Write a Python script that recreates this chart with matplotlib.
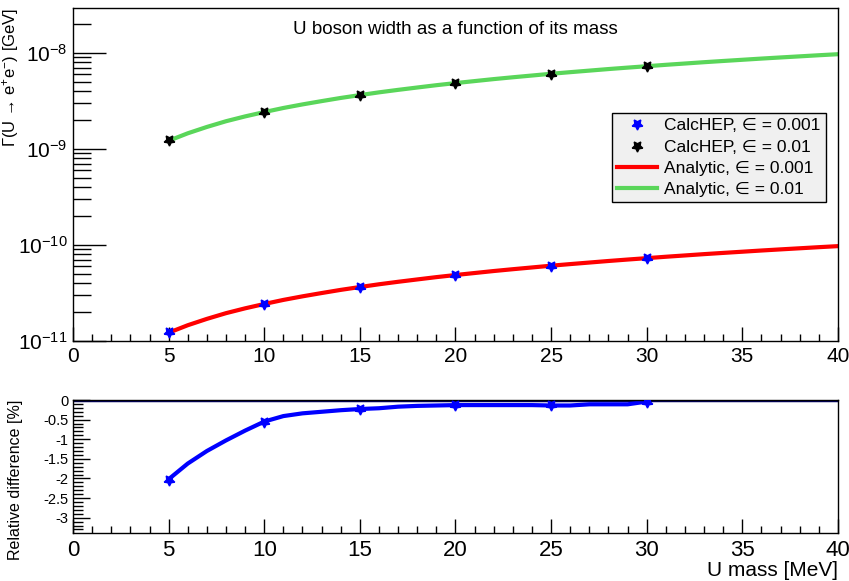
import numpy as np
import matplotlib
matplotlib.use("Agg")
import matplotlib.pyplot as plt
from matplotlib.ticker import MultipleLocator, LogLocator, LogFormatterMathtext, NullFormatter

plt.rcParams['font.family'] = ['Liberation Sans', 'DejaVu Sans']
plt.rcParams['mathtext.fontset'] = 'custom'
plt.rcParams['mathtext.rm'] = 'Liberation Sans'
plt.rcParams['mathtext.it'] = 'Liberation Sans:italic'

# U boson mass grid (MeV) for the analytic curves
mass = np.arange(5, 41)
# analytic width, eps = 0.01 (units of 1e-9 GeV)
width_eps2 = [1.22, 1.46, 1.70, 1.95, 2.19, 2.43, 2.68, 2.92, 3.16, 3.41, 3.65, 3.90,
              4.14, 4.38, 4.63, 4.87, 5.11, 5.36, 5.60, 5.84, 6.09, 6.33, 6.57, 6.82,
              7.06, 7.30, 7.55, 7.79, 8.04, 8.28, 8.52, 8.77, 9.01, 9.25, 9.50, 9.74]
# analytic width, eps = 0.001 (units of 1e-11 GeV)
width_eps1 = [1.22, 1.46, 1.70, 1.95, 2.19, 2.43, 2.68, 2.92, 3.16, 3.41, 3.65, 3.90,
              4.14, 4.38, 4.63, 4.87, 5.11, 5.36, 5.60, 5.84, 6.09, 6.33, 6.57, 6.82,
              7.06, 7.30, 7.55, 7.79, 8.04, 8.28, 8.52, 8.77, 9.01, 9.25, 9.50, 9.74]

# CalcHEP points
calc_mass = [5, 10, 15, 20, 25, 30]
calc_eps2 = [1.245, 2.445, 3.66, 4.88, 6.10, 7.31]   # 1e-9 GeV
calc_eps1 = [1.245, 2.445, 3.66, 4.88, 6.10, 7.31]   # 1e-11 GeV

# relative difference [%]
diff_mass = np.arange(5, 31)
rel_diff = [-2.02, -1.62, -1.30, -1.03, -0.78, -0.55, -0.41, -0.34, -0.30, -0.26,
            -0.23, -0.21, -0.17, -0.15, -0.14, -0.13, -0.13, -0.13, -0.13, -0.13,
            -0.14, -0.14, -0.11, -0.11, -0.11, -0.04]
diff_pts = [-2.05, -0.55, -0.23, -0.13, -0.13, -0.04]

green = '#5ad65a'
star = (5, 1, 180)

fig = plt.figure(figsize=(8.49, 5.81), dpi=100)
ax = fig.add_axes([73 / 849, 1 - 341 / 581, 765 / 849, 333 / 581])
ax2 = fig.add_axes([73 / 849, 1 - 533 / 581, 765 / 849, 133 / 581])

# ---- top pad: widths
ax.plot(mass, np.array(width_eps1) * 1e-11, color='red', lw=3, label='Analytic, ∈ = 0.001', zorder=2)
ax.plot(mass, np.array(width_eps2) * 1e-9, color=green, lw=3, label='Analytic, ∈ = 0.01', zorder=2)
ax.plot(calc_mass, np.array(calc_eps1) * 1e-11, ls='none', marker=star, ms=8,
        color='blue', label='CalcHEP, ∈ = 0.001', zorder=3)
ax.plot(calc_mass, np.array(calc_eps2) * 1e-9, ls='none', marker=star, ms=8,
        color='black', label='CalcHEP, ∈ = 0.01', zorder=3)

ax.set_yscale('log')
ax.set_xlim(0, 40)
ax.set_ylim(1e-11, 10 ** -7.53)
ax.xaxis.set_major_locator(MultipleLocator(5))
ax.xaxis.set_minor_locator(MultipleLocator(1))
ax.yaxis.set_major_locator(LogLocator(base=10, numticks=10))
ax.yaxis.set_minor_locator(LogLocator(base=10, subs=np.arange(2, 10), numticks=20))
ax.yaxis.set_major_formatter(LogFormatterMathtext())
ax.yaxis.set_minor_formatter(NullFormatter())
ax.tick_params(axis='both', which='both', direction='in', top=False, right=False)
ax.tick_params(axis='y', which='major', length=24, width=1, labelsize=15, pad=4)
ax.tick_params(axis='y', which='minor', length=13, width=1)
ax.tick_params(axis='x', which='major', length=10, width=1, labelsize=15, pad=4)
ax.tick_params(axis='x', which='minor', length=5, width=1)
ax.set_ylabel('Γ(U → e$^{+}$e$^{-}$) [GeV]', loc='top', fontsize=12)
ax.yaxis.set_label_coords(-0.068, 1.0)
ax.text(0.5, 0.935, 'U boson width as a function of its mass', transform=ax.transAxes,
        ha='center', va='center', fontsize=13.5)

handles, labels = ax.get_legend_handles_labels()
order = [2, 3, 0, 1]
leg = ax.legend([handles[i] for i in order], [labels[i] for i in order],
                loc='upper left', bbox_to_anchor=(612 / 849, 1 - 113 / 581),
                bbox_transform=fig.transFigure, fontsize=12.5, frameon=True, fancybox=False,
                borderaxespad=0, borderpad=0.3, labelspacing=0.35, handlelength=2.3,
                handletextpad=0.4, numpoints=1)
leg.get_frame().set_facecolor('#f0f0f0')
leg.get_frame().set_edgecolor('black')
leg.get_frame().set_linewidth(1)
leg.get_frame().set_alpha(1)

# ---- bottom pad: relative difference
ax2.axhline(0, color='#000060', lw=2.5, zorder=1)
ax2.plot(diff_mass, rel_diff, color='blue', lw=3, zorder=2)
ax2.plot(calc_mass, diff_pts, ls='none', marker=star, ms=8, color='blue', zorder=3)
ax2.set_xlim(0, 40)
ax2.set_ylim(-3.39, 0)
ax2.xaxis.set_major_locator(MultipleLocator(5))
ax2.xaxis.set_minor_locator(MultipleLocator(1))
ax2.yaxis.set_major_locator(MultipleLocator(0.5))
ax2.yaxis.set_minor_locator(MultipleLocator(0.1))
ax2.yaxis.set_major_formatter(plt.FuncFormatter(lambda v, p: '%g' % v))
ax2.tick_params(axis='both', which='both', direction='in', top=False, right=False)
ax2.tick_params(axis='y', which='major', length=12, width=1, labelsize=10.5, pad=3)
ax2.tick_params(axis='y', which='minor', length=7, width=1)
ax2.tick_params(axis='x', which='major', length=10, width=1, labelsize=16, pad=5)
ax2.tick_params(axis='x', which='minor', length=5, width=1)
ax2.set_ylabel('Relative difference [%]', loc='top', fontsize=11.5)
ax2.yaxis.set_label_coords(-0.066, 1.0)
ax2.set_xlabel('U mass [MeV]', loc='right', fontsize=15, labelpad=0)

for a in (ax, ax2):
    for s in a.spines.values():
        s.set_linewidth(1)

fig.savefig('out.png', dpi=100)
